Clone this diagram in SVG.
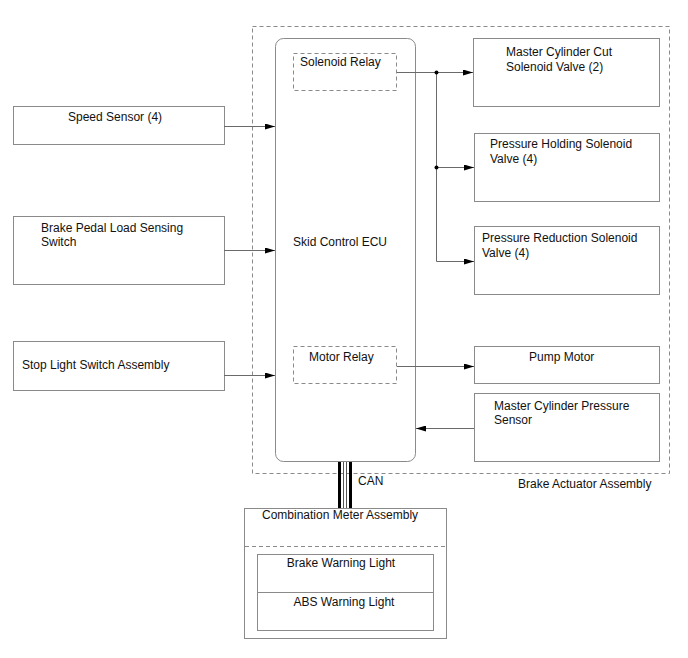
<svg xmlns="http://www.w3.org/2000/svg" width="688" height="658" viewBox="0 0 688 658">
<defs>
<style>
text{font-family:"Liberation Sans",Arial,sans-serif;font-size:12px;fill:#111}
.box{fill:#fff;stroke:#8a8a8a;stroke-width:1}
.dash{fill:none;stroke:#8a8a8a;stroke-width:1;stroke-dasharray:4,3}
.ln{fill:none;stroke:#6a6a6a;stroke-width:1}
</style>
<marker id="ah" markerWidth="10" markerHeight="6" refX="10" refY="3" orient="auto" markerUnits="userSpaceOnUse">
<path d="M0,0 L10,3 L0,6 Z" fill="#000"/>
</marker>
</defs>
<rect width="688" height="658" fill="#fff"/>
<g id="brake-actuator">
<rect class="dash" x="252.5" y="26.5" width="417" height="447"/>
<text x="518" y="488">Brake Actuator Assembly</text>
</g>
<g id="ecu">
<rect class="box" x="275.5" y="38.5" width="140" height="423" rx="8"/>
<text x="293" y="246">Skid Control ECU</text>
</g>
<g id="solenoid-relay">
<rect class="dash" x="293.5" y="53.5" width="103" height="37"/>
<text x="300" y="66">Solenoid Relay</text>
</g>
<g id="motor-relay">
<rect class="dash" x="293.5" y="346.5" width="103" height="37"/>
<text x="309" y="361">Motor Relay</text>
</g>
<g id="mc-cut">
<rect class="box" x="473.5" y="38.5" width="186" height="68"/>
<text x="506" y="56">Master Cylinder Cut</text>
<text x="506" y="71">Solenoid Valve (2)</text>
</g>
<g id="pressure-holding">
<rect class="box" x="474.5" y="133.5" width="185" height="68"/>
<text x="490" y="148">Pressure Holding Solenoid</text>
<text x="490" y="163">Valve (4)</text>
</g>
<g id="pressure-reduction">
<rect class="box" x="474.5" y="226.5" width="185" height="68"/>
<text x="482" y="242">Pressure Reduction Solenoid</text>
<text x="482" y="257">Valve (4)</text>
</g>
<g id="pump-motor">
<rect class="box" x="474.5" y="346.5" width="185" height="37"/>
<text x="529" y="361">Pump Motor</text>
</g>
<g id="mc-pressure-sensor">
<rect class="box" x="474.5" y="393.5" width="185" height="68"/>
<text x="494" y="410">Master Cylinder Pressure</text>
<text x="494" y="424">Sensor</text>
</g>
<g id="speed-sensor">
<rect class="box" x="13.5" y="106.5" width="211" height="38"/>
<text x="68" y="121">Speed Sensor (4)</text>
</g>
<g id="brake-pedal-switch">
<rect class="box" x="13.5" y="216.5" width="211" height="68"/>
<text x="41" y="232">Brake Pedal Load Sensing</text>
<text x="41" y="246">Switch</text>
</g>
<g id="stop-light-switch">
<rect class="box" x="13.5" y="341.5" width="211" height="49"/>
<text x="22" y="369">Stop Light Switch Assembly</text>
</g>
<g id="combination-meter">
<rect class="box" x="244.5" y="508.5" width="202" height="130"/>
<text x="262" y="519">Combination Meter Assembly</text>
<line class="dash" x1="245" y1="546.5" x2="446" y2="546.5"/>
<rect class="box" x="257.5" y="554.5" width="176" height="76"/>
<line x1="258" y1="592.5" x2="433" y2="592.5" stroke="#8a8a8a" stroke-width="1"/>
<text x="341" y="567" text-anchor="middle">Brake Warning Light</text>
<text x="344" y="606" text-anchor="middle">ABS Warning Light</text>
</g>
<g id="connectors">
<line class="ln" x1="224" y1="126.5" x2="275" y2="126.5" marker-end="url(#ah)"/>
<line class="ln" x1="224" y1="250.5" x2="275" y2="250.5" marker-end="url(#ah)"/>
<line class="ln" x1="224" y1="375.5" x2="275" y2="375.5" marker-end="url(#ah)"/>
<line class="ln" x1="397" y1="72.5" x2="473" y2="72.5" marker-end="url(#ah)"/>
<polyline class="ln" points="436.5,72 436.5,261.5 474,261.5" marker-end="url(#ah)"/>
<line class="ln" x1="436" y1="167.5" x2="474" y2="167.5" marker-end="url(#ah)"/>
<circle cx="436.5" cy="72.5" r="2" fill="#000"/>
<circle cx="436.5" cy="167.5" r="2" fill="#000"/>
<line class="ln" x1="397" y1="366.5" x2="474" y2="366.5" marker-end="url(#ah)"/>
<line class="ln" x1="474" y1="428.5" x2="416" y2="428.5" marker-end="url(#ah)"/>
<g id="can-bus">
<line x1="339.5" y1="462" x2="339.5" y2="508" stroke="#000" stroke-width="3"/>
<line x1="343.5" y1="462" x2="343.5" y2="508" stroke="#555" stroke-width="1"/>
<line x1="346.5" y1="462" x2="346.5" y2="508" stroke="#555" stroke-width="1"/>
<line x1="350.5" y1="462" x2="350.5" y2="508" stroke="#000" stroke-width="3"/>
</g>
<text x="358" y="485">CAN</text>
</g>
</svg>
